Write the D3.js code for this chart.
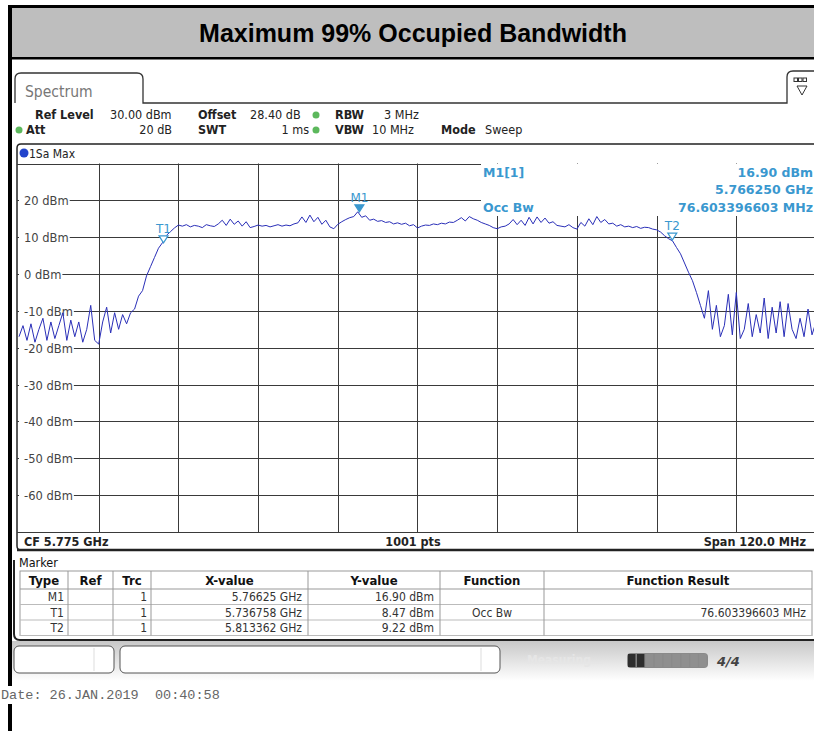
<!DOCTYPE html>
<html>
<head>
<meta charset="utf-8">
<script src="https://cdn.jsdelivr.net/npm/d3@7"></script>
<style>
  body { margin: 0; background: #fff; }
  svg { display: block; }
  .cond { font-family: "DejaVu Sans Condensed", "DejaVu Sans", sans-serif; }
  .verd { font-family: "DejaVu Sans", Verdana, sans-serif; }
</style>
</head>
<body>
<svg id="chart" width="814" height="731"></svg>
<script>
// sweep settings
const centerFreq = 5.775 // GHz
const spanGHz = 0.120
const startFreq = centerFreq - spanGHz / 2
const stepGHz = 0.0006 // one reading every 0.6 MHz

// trace level in dBm, 201 readings from 5.715 to 5.835 GHz
const traceLevels = [
  -17, -14, -18, -13.5, -18.5, -15, -12, -18, -13, -17.5,
  -14, -10.5, -18, -12.5, -17, -13, -18.5, -15, -8.5, -18,
  -19, -13, -9, -16, -10.5, -15, -11, -13.5, -10.5, -9.5,
  -6, -4.5, -0.5, 2, 4.5, 7, 8.5, 10.5, 11.5, 12.5,
  13.3, 13.0, 13.4, 12.8, 13.2, 13.0, 12.6, 13.4, 13.1, 12.9,
  13.6, 14.6, 13.2, 14.9, 13.5, 14.4, 13.0, 14.2, 12.6, 12.9,
  13.3, 13.0, 13.2, 12.8, 13.1, 13.4, 13.0, 13.3, 13.1, 13.6,
  13.9, 15.5, 14.0, 16.0, 14.2, 15.4, 13.5, 14.6, 12.8, 12.3,
  13.5, 14.2, 14.8, 15.3, 15.6, 16.9, 15.4, 15.8, 14.6, 14.9,
  14.3, 14.5, 14.0, 14.2, 13.6, 13.9, 13.5, 13.8, 13.1, 13.4,
  12.5, 13.0, 13.3, 13.2, 13.6, 13.4, 13.8, 13.6, 14.1, 14.0,
  14.6, 15.3, 14.4, 15.6, 15.0, 14.6, 14.0, 13.6, 13.2, 12.6,
  12.3, 12.8, 13.0, 13.6, 14.8, 13.4, 14.6, 13.2, 15.4, 13.6,
  15.5, 14.0, 15.2, 13.8, 14.2, 13.2, 13.0, 12.8, 13.4, 12.6,
  12.2, 14.0, 13.0, 15.0, 13.4, 15.6, 14.0, 14.8, 13.6, 13.8,
  13.0, 13.4, 12.8, 13.0, 12.6, 12.9, 12.4, 12.7, 12.6, 12.2,
  12.0, 11.4, 10.4, 9.6, 9.0, 7.2, 5.5, 3.0, 0.5, -1.8,
  -5, -8.5, -12, -4.5, -15, -8.5, -17, -14, -5.5, -16.5,
  -5, -17.5, -15, -8, -17, -11, -16, -6.5, -17.5, -9,
  -16, -7.5, -17, -8, -15, -17.5, -12, -17, -9.5, -16.5,
  -13
]

const yTickLevels = [20, 10, 0, -10, -20, -30, -40, -50, -60]

// markers from the marker table
const markerNames = ["M1", "T1", "T2"]
const markerFreqs = [5.76625, 5.736758, 5.813362]
const markerLevels = [16.90, 8.47, 9.22]
const markerXText = ["5.76625 GHz", "5.736758 GHz", "5.813362 GHz"]
const markerYText = ["16.90 dBm", "8.47 dBm", "9.22 dBm"]
const markerFunc = ["", "Occ Bw", ""]
const markerResult = ["", "76.603396603 MHz", ""]

const tableHeads = ["Type", "Ref", "Trc", "X-value", "Y-value", "Function", "Function Result"]

const svg = d3.select("#chart")
const markerBlue = "#3a98cf"
const traceBlue = "#2a2fb8"

// page frame + title band
svg.append("rect").attr("x", 0).attr("y", 0).attr("width", 814).attr("height", 731).attr("fill", "#fff")
svg.append("rect").attr("x", 12).attr("y", 8).attr("width", 802).attr("height", 49).attr("fill", "#bebebe")
svg.append("rect").attr("x", 8).attr("y", 5).attr("width", 806).attr("height", 3).attr("fill", "#000")
svg.append("rect").attr("x", 8).attr("y", 57).attr("width", 806).attr("height", 2.5).attr("fill", "#000")
svg.append("rect").attr("x", 8).attr("y", 5).attr("width", 4).attr("height", 726).attr("fill", "#000")
svg.append("text")
  .attr("x", 413).attr("y", 42)
  .attr("text-anchor", "middle")
  .style("font-family", "Liberation Sans, Arial, sans-serif")
  .style("font-weight", "bold").style("font-size", "25px")
  .text("Maximum 99% Occupied Bandwidth")

// Spectrum tab outline
svg.append("path")
  .attr("d", "M15,103 V79 Q15,73 21,73 H137 Q143,73 143,79 V103 H787 V77 Q787,71 793,71 H816")
  .attr("fill", "none").attr("stroke", "#333").attr("stroke-width", 1.3)
svg.append("text").attr("class", "cond")
  .attr("x", 25).attr("y", 97).attr("fill", "#777").style("font-size", "15.5px")
  .text("Spectrum")
// little icon in the right tab
const icon = svg.append("g")
d3.range(3).forEach((i) => {
  icon.append("rect").attr("x", 794 + i * 4.5).attr("y", 78).attr("width", 3.5).attr("height", 3.5)
    .attr("fill", "#fff").attr("stroke", "#333").attr("stroke-width", 1)
})
icon.append("path").attr("d", "M797,86 L807,86 L802,95 Z").attr("fill", "none").attr("stroke", "#333")

// header settings
const header = svg.append("g").attr("class", "cond").style("font-size", "12.5px").attr("fill", "#222")
function hText(x, y, t, bold, anchor) {
  header.append("text").attr("x", x).attr("y", y)
    .attr("text-anchor", anchor || "start")
    .style("font-weight", bold ? "bold" : "normal")
    .text(t)
}
hText(35, 119, "Ref Level", true)
hText(110, 119, "30.00 dBm")
hText(198, 119, "Offset", true)
hText(250, 119, "28.40 dB")
hText(335, 119, "RBW", true)
hText(384, 119, "3 MHz")
hText(26, 134, "Att", true)
hText(172, 134, "20 dB", false, "end")
hText(198, 134, "SWT", true)
hText(309, 134, "1 ms", false, "end")
hText(335, 134, "VBW", true)
hText(372, 134, "10 MHz")
hText(441, 134, "Mode", true)
hText(485, 134, "Sweep")
;[[316, 115], [19, 130], [316, 130]].forEach(([cx, cy]) => {
  svg.append("circle").attr("cx", cx).attr("cy", cy).attr("r", 3.5).attr("fill", "#5cb85c")
})

// scales
const x = d3.scaleLinear().domain([startFreq, startFreq + spanGHz]).range([19, 816])
const y = d3.scaleLinear().domain([-70, 30]).range([532, 163.5])

// diagram frame
svg.append("path")
  .attr("d", "M816,144 H21 Q17,144 17,148 V546 Q17,550 21,550 H816")
  .attr("fill", "none").attr("stroke", "#222").attr("stroke-width", 1.5)
svg.append("line").attr("x1", 17).attr("x2", 816).attr("y1", 550).attr("y2", 550)
  .attr("stroke", "#222").attr("stroke-width", 2.5)
svg.append("circle").attr("cx", 24).attr("cy", 153).attr("r", 4.5).attr("fill", "#2244cc")
svg.append("text").attr("class", "cond").attr("x", 29).attr("y", 157.5)
  .style("font-size", "12px").attr("fill", "#222").text("1Sa Max")

// grid
const grid = svg.append("g").attr("stroke", "#3a3a3a").attr("stroke-width", 1)
const xDivs = d3.range(11).map((i) => startFreq + i * spanGHz / 10)
grid.selectAll(".vg").data(xDivs.slice(1)).enter().append("line")
  .attr("x1", (d) => Math.round(x(d)) + 0.5).attr("x2", (d) => Math.round(x(d)) + 0.5)
  .attr("y1", y(30)).attr("y2", y(-70))
grid.selectAll(".hg").data([30, ...yTickLevels, -70]).enter().append("line")
  .attr("x1", 17).attr("x2", 816)
  .attr("y1", (d) => Math.round(y(d)) + 0.5).attr("y2", (d) => Math.round(y(d)) + 0.5)

// y labels with a white patch so the grid line starts after the text
const yLab = svg.append("g").attr("class", "verd").style("font-size", "11.5px")
yTickLevels.forEach((v) => {
  const t = yLab.append("text").attr("x", 24).attr("y", Math.round(y(v)) + 4.5)
    .attr("fill", "#444").text(v + " dBm")
  const w = t.node().getComputedTextLength()
  yLab.insert("rect", "text").attr("x", 19).attr("y", y(v) - 7).attr("width", w + 6).attr("height", 13)
    .attr("fill", "#fff")
})

// marker readout box
svg.append("rect").attr("x", 481).attr("y", 164).attr("width", 335).attr("height", 52).attr("fill", "#fff")
const readout = svg.append("g").attr("class", "verd").attr("fill", markerBlue)
  .style("font-size", "12.5px").style("font-weight", "bold")
readout.append("text").attr("x", 483).attr("y", 177).text("M1[1]")
readout.append("text").attr("x", 483).attr("y", 212).text("Occ Bw")
readout.append("text").attr("x", 813).attr("y", 177).attr("text-anchor", "end").text(markerYText[0])
readout.append("text").attr("x", 813).attr("y", 194).attr("text-anchor", "end").text("5.766250 GHz")
readout.append("text").attr("x", 813).attr("y", 212).attr("text-anchor", "end").text(markerResult[1])

// trace
const line = d3.line()
  .x((d, i) => x(startFreq + i * stepGHz))
  .y((d) => y(d))
svg.append("path").datum(traceLevels)
  .attr("d", line)
  .attr("fill", "none").attr("stroke", traceBlue).attr("stroke-width", 1)

// markers on the trace
const mk = svg.append("g")
markerNames.forEach((name, i) => {
  const mx = x(markerFreqs[i])
  const my = y(markerLevels[i])
  mk.append("path")
    .attr("d", `M${mx - 4.5},${my - 7} L${mx + 4.5},${my - 7} L${mx},${my} Z`)
    .attr("fill", name === "M1" ? markerBlue : "#fff")
    .attr("stroke", markerBlue).attr("stroke-width", 1.2)
  mk.append("text").attr("class", "verd")
    .attr("x", mx).attr("y", my - 10)
    .attr("text-anchor", "middle")
    .attr("fill", markerBlue).style("font-size", "12px")
    .text(name)
})

// bottom info row of diagram
const info = svg.append("g").attr("class", "cond").style("font-size", "12.5px")
  .style("font-weight", "bold").attr("fill", "#222")
info.append("text").attr("x", 24).attr("y", 546).text("CF " + centerFreq.toFixed(3) + " GHz")
info.append("text").attr("x", 413).attr("y", 546).attr("text-anchor", "middle").text("1001 pts")
info.append("text").attr("x", 806).attr("y", 546).attr("text-anchor", "end")
  .text("Span " + (spanGHz * 1000).toFixed(1) + " MHz")

// marker table
svg.append("text").attr("class", "cond").attr("x", 19).attr("y", 567)
  .style("font-size", "12.5px").attr("fill", "#111").text("Marker")
const colEdges = [20, 68, 113, 151, 308, 440, 544, 812]
const headTop = 571, headH = 18, rowH = 15.5
const tbl = svg.append("g").attr("class", "cond")
tbl.append("rect").attr("x", colEdges[0]).attr("y", headTop).attr("width", colEdges[7] - colEdges[0])
  .attr("height", headH + rowH * 3).attr("fill", "#fff").attr("stroke", "#999")
tbl.append("line").attr("x1", colEdges[0]).attr("x2", colEdges[7])
  .attr("y1", headTop + headH).attr("y2", headTop + headH).attr("stroke", "#999")
d3.range(3).forEach((r) => {
  tbl.append("line").attr("x1", colEdges[0]).attr("x2", colEdges[7])
    .attr("y1", headTop + headH + rowH * (r + 1)).attr("y2", headTop + headH + rowH * (r + 1))
    .attr("stroke", "#bbb")
})
colEdges.slice(1, 7).forEach((cx) => {
  tbl.append("line").attr("x1", cx).attr("x2", cx)
    .attr("y1", headTop).attr("y2", headTop + headH + rowH * 3).attr("stroke", "#999")
})
tableHeads.forEach((h, i) => {
  tbl.append("text").attr("x", (colEdges[i] + colEdges[i + 1]) / 2).attr("y", headTop + 14)
    .attr("text-anchor", "middle").style("font-size", "13px").style("font-weight", "bold")
    .attr("fill", "#111").text(h)
})
markerNames.forEach((name, r) => {
  const ty = headTop + headH + rowH * r + 12
  const cells = [
    [name, colEdges[1] - 4, "end"],
    ["1", colEdges[3] - 4, "end"],
    [markerXText[r], colEdges[4] - 6, "end"],
    [markerYText[r], colEdges[5] - 6, "end"],
    [markerFunc[r], (colEdges[5] + colEdges[6]) / 2, "middle"],
    [markerResult[r], colEdges[7] - 6, "end"]
  ]
  cells.forEach(([t, tx, anchor]) => {
    tbl.append("text").attr("x", tx).attr("y", ty).attr("text-anchor", anchor)
      .style("font-size", "12px").attr("fill", "#333").text(t)
  })
})
svg.append("path")
  .attr("d", "M816,640 H20 Q14,640 14,634 V560")
  .attr("fill", "none").attr("stroke", "#222").attr("stroke-width", 2)

// status bar
const grad = svg.append("defs").append("linearGradient").attr("id", "sbar")
  .attr("x1", 0).attr("x2", 0).attr("y1", 0).attr("y2", 1)
grad.append("stop").attr("offset", "0%").attr("stop-color", "#c8c8c8")
grad.append("stop").attr("offset", "100%").attr("stop-color", "#fff")
svg.append("rect").attr("x", 12).attr("y", 641).attr("width", 802).attr("height", 40).attr("fill", "url(#sbar)")
;[[14, 100, 94], [120, 380, 481]].forEach(([bx, bw, div]) => {
  svg.append("rect").attr("x", bx).attr("y", 646).attr("width", bw).attr("height", 27).attr("rx", 5)
    .attr("fill", "#fff").attr("stroke", "#555").attr("stroke-width", 1)
  svg.append("line").attr("x1", div).attr("x2", div).attr("y1", 648).attr("y2", 671).attr("stroke", "#ddd")
})
svg.append("text").attr("class", "cond").attr("x", 527).attr("y", 664)
  .style("font-size", "12px").style("font-weight", "bold").attr("fill", "#e6e6e6").text("Measuring...")
svg.append("rect").attr("x", 627).attr("y", 653).attr("width", 81).attr("height", 15).attr("rx", 4)
  .attr("fill", "#8a8a8a")
d3.range(9).forEach((i) => {
  svg.append("rect").attr("x", 628 + i * 8.9).attr("y", 654).attr("width", 7.5).attr("height", 13)
    .attr("fill", i < 2 ? "#2e2e2e" : "#8f8f8f")
})
svg.append("text").attr("x", 717).attr("y", 666).style("font-family", "DejaVu Sans, sans-serif")
  .style("font-size", "13px").style("font-weight", "bold").style("font-style", "italic")
  .attr("fill", "#444").text("4/4")

// date stamp (drawn on a white patch over the page border)
svg.append("rect").attr("x", 0).attr("y", 686).attr("width", 236).attr("height", 18).attr("fill", "#fff")
svg.append("text").attr("x", 1).attr("y", 699)
  .style("font-family", "Liberation Mono, Courier New, monospace").style("font-size", "13.5px")
  .attr("fill", "#666").attr("xml:space", "preserve")
  .text("Date: 26.JAN.2019  00:40:58")
</script>
</body>
</html>
